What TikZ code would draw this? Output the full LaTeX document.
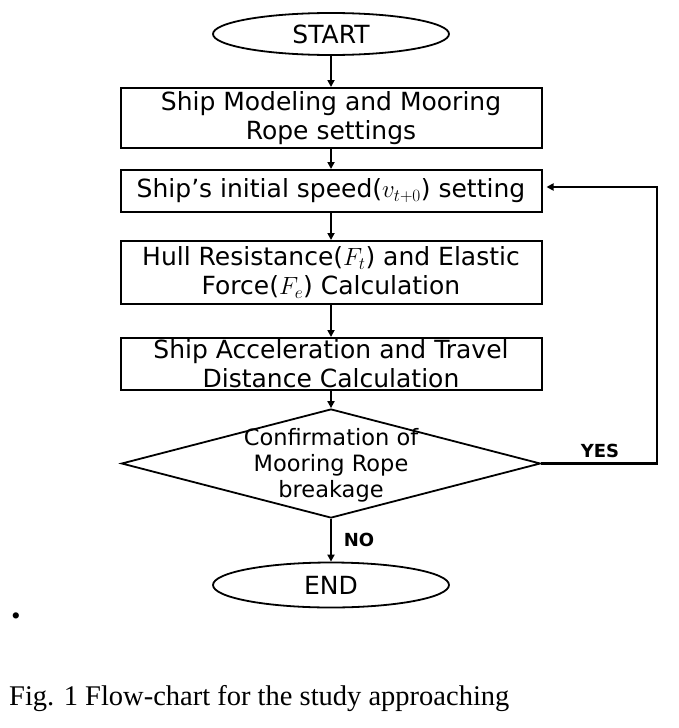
\documentclass[tikz,border=0pt]{standalone}
\usepackage{fontspec}
\setmainfont{DejaVu Sans}
\newfontfamily\capfont{Liberation Serif}
\usetikzlibrary{shapes.geometric,arrows.meta}
\begin{document}
\begin{tikzpicture}[x=1pt,y=-1pt,
  every node/.style={font=\fontsize{25}{29}\selectfont},
  box/.style={draw,line width=2pt,rectangle,inner sep=0pt,align=center,minimum width=421pt},
  term/.style={draw,line width=1.8pt,ellipse,inner sep=0pt,minimum width=236pt},
  arr/.style={line width=2.4pt,-{Triangle[length=7pt,width=7pt]}},
  lbl/.style={font=\fontsize{18}{20}\selectfont\bfseries}]
\useasboundingbox (0,0) rectangle (678,728);
\node[term,minimum height=42pt] (start) at (331,34) {START};
\node[box,minimum height=60pt] (b1) at (331,118) {Ship Modeling and Mooring\\Rope settings};
\node[box,minimum height=42pt] (b2) at (331,191) {Ship's initial speed($v_{t+0}$) setting};
\node[box,minimum height=63pt] (b3) at (331,272.5) {Hull Resistance($F_t$) and Elastic\\Force($F_e$) Calculation};
\node[box,minimum height=52pt] (b4) at (331,364) {Ship Acceleration and Travel\\Distance Calculation};
\node[draw,line width=1.8pt,diamond,minimum width=419pt,minimum height=109pt,inner sep=0pt] (dia) at (331,463.5) {};
\node[align=center,font=\fontsize{22.5}{26}\selectfont] (diatext) at (331,465) {Confirmation of\\Mooring Rope\\breakage};
\node[term,minimum height=45pt] (end) at (331,585) {END};
\coordinate (yr) at (657,463.5);
\coordinate (yt) at (657,187);
\draw[arr] (start.south) -- (b1.north);
\draw[arr] (b1.south) -- (b2.north);
\draw[arr] (b2.south) -- (b3.north);
\draw[arr] (b3.south) -- (b4.north);
\draw[arr] (b4.south) -- (dia.north);
\draw[arr] (dia.south) -- (end.north);
\draw[line width=2.4pt,-{Triangle[length=7pt,width=7pt]},shorten >=4pt] (dia.east) -- (yr) -- (yt) -- (b2.east |- yt);
\node[lbl] (yes) at (600,451) {YES};
\node[lbl] (no) at (359,540) {NO};
\node[font=\capfont\fontsize{26}{30}\selectfont] (bul) at (16,619) {\textbullet};
\node[anchor=base west,inner sep=0pt,font=\capfont\fontsize{28.5}{32}\selectfont] (cap) at (9,705) {Fig. 1 Flow-chart for the study approaching};
\end{tikzpicture}
\end{document}
